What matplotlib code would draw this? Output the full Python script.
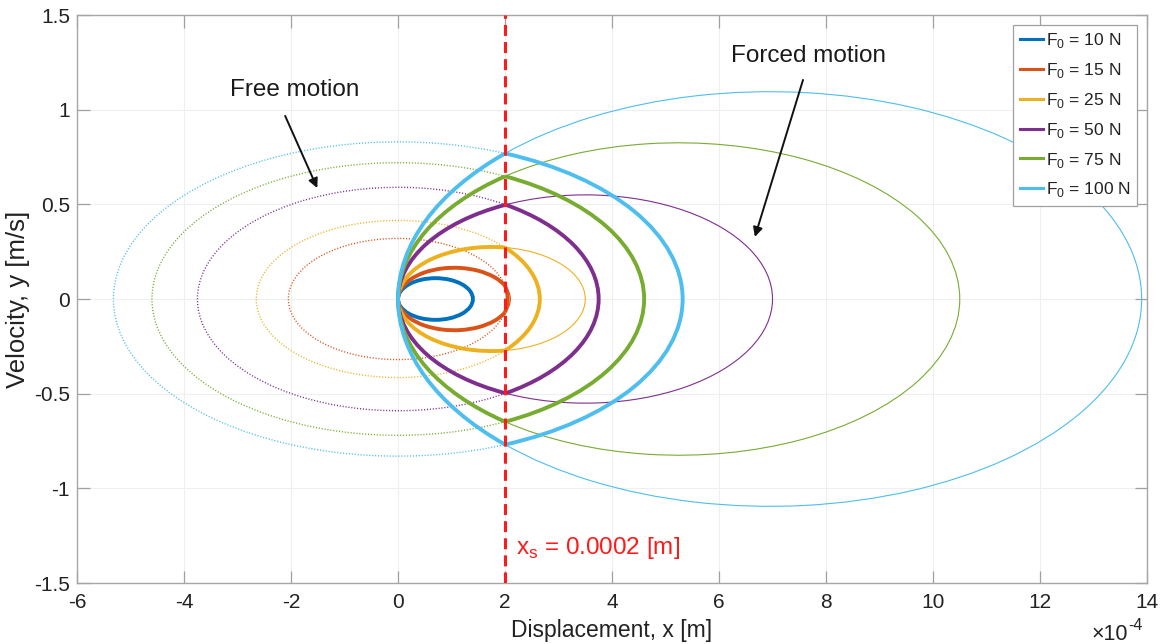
import numpy as np
import matplotlib
matplotlib.use("Agg")
import matplotlib.pyplot as plt
from matplotlib.patches import Arc
from matplotlib.lines import Line2D

plt.rcParams['font.family'] = ['Liberation Sans', 'DejaVu Sans']
plt.rcParams['axes.unicode_minus'] = False

# values
forces = [10, 15, 25, 50, 75, 100]  # N
colors = ["#0072BD", "#D95319", "#EDB120", "#7E2F8E", "#77AC30", "#4DBEEE"]
forced_cx = [0.7e-4, 1.05e-4, 1.75e-4, 3.5e-4, 5.25e-4, 6.95e-4]  # centre = x half width
forced_vamp = [0.11, 0.165, 0.275, 0.55, 0.825, 1.095]             # m/s
free_rx = [None, 2.05e-4, 2.65e-4, 3.75e-4, 4.6e-4, 5.32e-4]      # m
free_vamp = [None, 0.32, 0.415, 0.59, 0.72, 0.83]                 # m/s
xs = 2e-4
xticks = [-6, -4, -2, 0, 2, 4, 6, 8, 10, 12, 14]  # x 1e-4 m
yticks = [-1.5, -1, -0.5, 0, 0.5, 1, 1.5]
ytick_labels = ["-1.5", "-1", "-0.5", "0", "0.5", "1", "1.5"]

fig = plt.figure(figsize=(11.64, 6.44), dpi=100)
ax = fig.add_axes([0.0662, 0.0947, 0.9192, 0.8820])

thick, thin = 2.8, 0.8
for i, F in enumerate(forces):
    c = colors[i]
    cx, vb = forced_cx[i], forced_vamp[i]
    w, h = 2 * cx, 2 * vb
    if 2 * cx <= xs:
        ax.add_patch(Arc((cx, 0), w, h, theta1=0, theta2=360, color=c, lw=thick, zorder=5))
        continue
    # velocity where the forced ellipse meets x = xs
    vi = vb * np.sqrt(1 - ((xs - cx) / cx) ** 2)
    thf = np.degrees(np.arctan2(vi, xs - cx))
    ths = np.degrees(np.arctan2(vi, xs))
    rx, rv = free_rx[i], free_vamp[i]
    # forced ellipse: thick for x < xs, thin beyond
    ax.add_patch(Arc((cx, 0), w, h, theta1=thf, theta2=360 - thf, color=c, lw=thick, zorder=5))
    ax.add_patch(Arc((cx, 0), w, h, theta1=-thf, theta2=thf, color=c, lw=thin, zorder=3))
    # free ellipse: thick beyond xs, dotted otherwise
    ax.add_patch(Arc((0, 0), 2 * rx, 2 * rv, theta1=-ths, theta2=ths, color=c, lw=thick, zorder=5))
    ax.add_patch(Arc((0, 0), 2 * rx, 2 * rv, theta1=ths, theta2=360 - ths, color=c, lw=1.0,
                     ls=(0, (0.8, 1.3)), zorder=3))

ax.axvline(xs, color="#FF1A1A", lw=2.2, ls=(0, (3.6, 2.0)), zorder=6)
ax.text(2.2e-4, -1.315, "x$_\\mathregular{s}$ = 0.0002 [m]", color="#FF1A1A", fontsize=17.5,
        va="center", ha="left")

arrow = dict(arrowstyle="-|>", color="#111111", lw=1.4, mutation_scale=14, shrinkA=0, shrinkB=0)
ax.text(-1.94e-4, 1.104, "Free motion", fontsize=17.5, ha="center", va="center", color="#1A1A1A")
ax.annotate("", xy=(-1.51e-4, 0.586), xytext=(-2.11e-4, 0.967), arrowprops=arrow)
ax.text(7.68e-4, 1.284, "Forced motion", fontsize=17.5, ha="center", va="center", color="#1A1A1A")
ax.annotate("", xy=(6.67e-4, 0.328), xytext=(7.57e-4, 1.157), arrowprops=arrow)

ax.set_xlim(-6e-4, 14e-4)
ax.set_ylim(-1.5, 1.5)
ax.set_xticks([t * 1e-4 for t in xticks])
ax.set_xticklabels([str(t) for t in xticks])
ax.set_yticks(yticks)
ax.set_yticklabels(ytick_labels)
ax.tick_params(direction="in", labelsize=15, color="#A0A0A0", top=True, right=True,
               length=9, width=0.9, labelcolor="#222222")
ax.tick_params(axis="x", pad=7)
ax.tick_params(axis="y", pad=5)
for s in ax.spines.values():
    s.set_color("#A6A6A6")
    s.set_linewidth(1.0)
ax.grid(True, color="#EFEFEF", lw=0.8)
ax.set_axisbelow(True)
ax.set_xlabel("Displacement, x [m]", fontsize=16.5, labelpad=5, color="#222222")
ax.set_ylabel("Velocity, y [m/s]", fontsize=18.5, labelpad=3, color="#222222")

# exponent label of the x axis
fig.text(1092 / 1164, 1 - 640 / 644, "\u00d710", fontsize=15.5, color="#222222", va="baseline")
fig.text(1128 / 1164, 1 - 630 / 644, "-4", fontsize=11.5, color="#222222", va="baseline")

handles = [Line2D([], [], color=colors[i], lw=2.2) for i in range(len(forces))]
labels = ["F$_\\mathregular{0}$ = %d N" % F for F in forces]
leg = ax.legend(handles, labels, loc="upper right", fontsize=12.5, fancybox=False,
                framealpha=1, edgecolor="#A0A0A0", handlelength=1.35, handletextpad=0.15,
                borderaxespad=0.55, labelspacing=0.62, borderpad=0.4)
leg.get_frame().set_linewidth(0.9)
for t in leg.get_texts():
    t.set_color("#222222")

fig.savefig("out.png", dpi=100)
